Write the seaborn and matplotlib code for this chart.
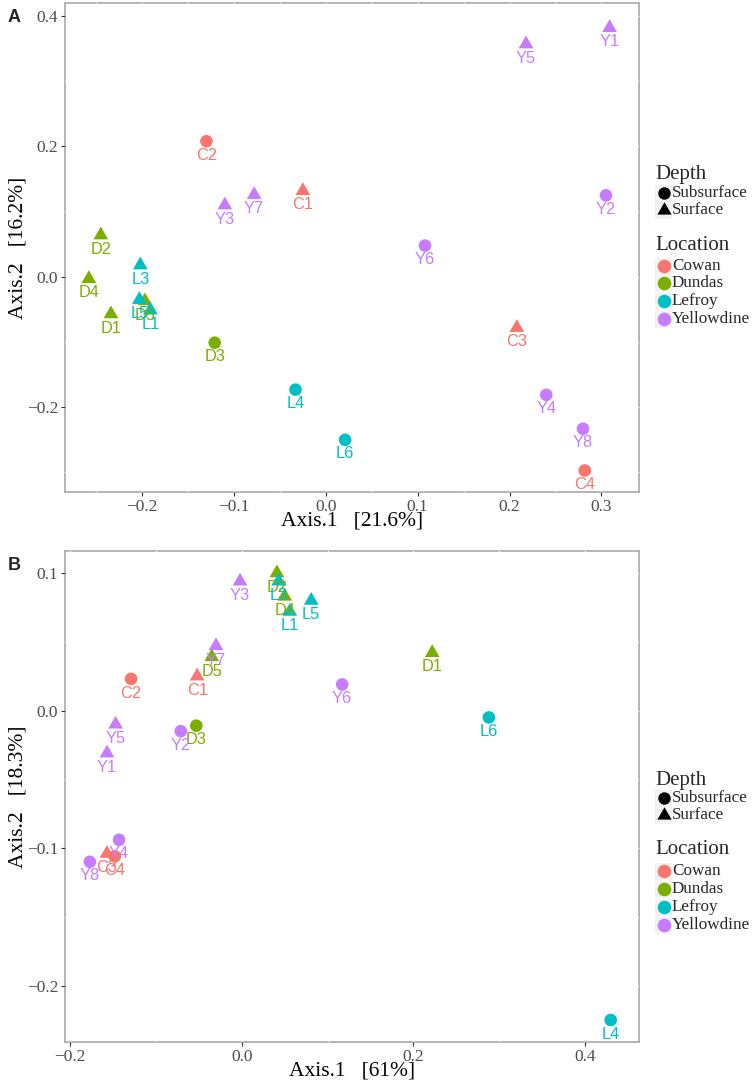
import numpy as np
import pandas as pd
import matplotlib
matplotlib.use('Agg')
import matplotlib.pyplot as plt
import seaborn as sns
from matplotlib.ticker import FixedLocator, FuncFormatter
from matplotlib.patches import Rectangle

# ---------------- data ----------------
samples = ['C1', 'C2', 'C3', 'C4', 'D1', 'D2', 'D3', 'D4', 'D5',
           'L1', 'L3', 'L4', 'L5', 'L6',
           'Y1', 'Y2', 'Y3', 'Y4', 'Y5', 'Y6', 'Y7', 'Y8']
location = ['Cowan'] * 4 + ['Dundas'] * 5 + ['Lefroy'] * 5 + ['Yellowdine'] * 8
depth = ['Surface', 'Subsurface', 'Surface', 'Subsurface',
         'Surface', 'Surface', 'Subsurface', 'Surface', 'Surface',
         'Surface', 'Surface', 'Subsurface', 'Surface', 'Subsurface',
         'Surface', 'Subsurface', 'Surface', 'Subsurface', 'Surface', 'Subsurface', 'Surface', 'Subsurface']

a_axis1 = [-0.025, -0.130, 0.208, 0.282, -0.234, -0.245, -0.121, -0.258, -0.197,
           -0.191, -0.202, -0.033, -0.203, 0.021,
           0.309, 0.305, -0.110, 0.240, 0.218, 0.108, -0.078, 0.280]
a_axis2 = [0.132, 0.208, -0.078, -0.297, -0.057, 0.064, -0.101, -0.003, -0.037,
           -0.051, 0.018, -0.173, -0.035, -0.250,
           0.382, 0.125, 0.110, -0.181, 0.357, 0.048, 0.126, -0.233]

b_axis1 = [-0.052, -0.129, -0.157, -0.148, 0.222, 0.041, -0.053, 0.050, -0.035,
           0.056, 0.043, 0.430, 0.081, 0.288,
           -0.157, -0.071, -0.002, -0.143, -0.147, 0.117, -0.030, -0.177]
b_axis2 = [0.025, 0.023, -0.104, -0.106, 0.042, 0.100, -0.011, 0.083, 0.039,
           0.072, 0.094, -0.225, 0.080, -0.005,
           -0.031, -0.015, 0.094, -0.094, -0.010, 0.019, 0.047, -0.110]

loc_levels = ['Cowan', 'Dundas', 'Lefroy', 'Yellowdine']
depth_levels = ['Subsurface', 'Surface']
loc_colors = ['#F8766D', '#7CAE00', '#00BFC4', '#C77CFF']

a_xticks = [-0.2, -0.1, 0.0, 0.1, 0.2, 0.3]
a_yticks = [-0.2, 0.0, 0.2, 0.4]
b_xticks = [-0.2, 0.0, 0.2, 0.4]
b_yticks = [-0.2, -0.1, 0.0, 0.1]

a_xlabel = 'Axis.1   [21.6%]'
a_ylabel = 'Axis.2   [16.2%]'
b_xlabel = 'Axis.1   [61%]'
b_ylabel = 'Axis.2   [18.3%]'

# ---------------- style ----------------
sns.set_theme(style='white')
plt.rcParams['font.family'] = ['Liberation Serif', 'DejaVu Serif']

W, H = 753, 1084
fig = plt.figure(figsize=(W / 100, H / 100), dpi=100)
palette = dict(zip(loc_levels, loc_colors))
SANS = ['Liberation Sans', 'DejaVu Sans']
fmt = FuncFormatter(lambda v, p: ('%.1f' % v).replace('-', '\u2212'))
# triangle centred on its centroid (like R's pch 17)
TRI = [(0.0, 1.0), (-0.866, -0.5), (0.866, -0.5), (0.0, 1.0)]


def px_axes(l, t, r, b):
    return fig.add_axes([l / W, 1 - b / H, (r - l) / W, (b - t) / H])


def minor_between(ticks, lo, hi):
    step = (ticks[1] - ticks[0]) / 2.0
    vals = np.arange(ticks[0] - 4 * step, ticks[-1] + 4 * step + 1e-9, step)
    return [v for v in vals if lo < v < hi]


def draw_panel(box, xs, ys, xlim, ylim, xticks, yticks, xlabel, ylabel, letter, legend_rows):
    l, t, r, b = box
    ax = px_axes(l, t, r, b)
    df = pd.DataFrame({'Sample': samples, 'Location': location, 'Depth': depth,
                       'x': xs, 'y': ys})
    sns.scatterplot(data=df, x='x', y='y', hue='Location', hue_order=loc_levels,
                    style='Depth', style_order=depth_levels,
                    markers={'Subsurface': 'o', 'Surface': TRI},
                    size='Depth', sizes={'Subsurface': 82, 'Surface': 150},
                    palette=palette, linewidth=0, legend=False, ax=ax, zorder=3)
    for _, row in df.iterrows():
        ax.annotate(row['Sample'], (row['x'], row['y']), xytext=(0, -13.4),
                    textcoords='offset points', ha='center', va='baseline',
                    color=palette[row['Location']], fontsize=11.8, family=SANS, zorder=4)
    ax.set_xlim(*xlim)
    ax.set_ylim(*ylim)
    ax.xaxis.set_major_locator(FixedLocator(xticks))
    ax.yaxis.set_major_locator(FixedLocator(yticks))
    ax.xaxis.set_minor_locator(FixedLocator(minor_between(xticks, *xlim)))
    ax.yaxis.set_minor_locator(FixedLocator(minor_between(yticks, *ylim)))
    ax.xaxis.set_major_formatter(fmt)
    ax.yaxis.set_major_formatter(fmt)
    ax.tick_params(axis='both', which='major', length=3, width=0.8, color='#333333',
                   labelsize=12.5, labelcolor='#4d4d4d', pad=2, direction='out',
                   bottom=True, left=True)
    ax.tick_params(axis='both', which='minor', length=0)
    for sp in ax.spines.values():
        sp.set_color('#a8a8a8')
        sp.set_linewidth(1.2)
        sp.set_zorder(1)
    ax.grid(True, which='both', color='white', linewidth=1.0)
    ax.set_axisbelow(False)
    ax.set_xlabel(xlabel, fontsize=15.5, color='black')
    ax.set_ylabel(ylabel, fontsize=15.5, color='black')
    ax.xaxis.set_label_coords(0.5, -(29) / (b - t))
    ax.yaxis.set_label_coords(-(l - 18) / (r - l), 0.5)
    ax.xaxis.label.set_va('center')
    ax.yaxis.label.set_va('center')
    ax.set_facecolor('white')
    fig.text(14 / W, 1 - (t + 15) / H, letter, fontsize=13, fontweight='bold',
             family=SANS, ha='center', va='center')

    # legend drawn in pixel space
    lg = px_axes(648, t, W, b)
    lg.set_xlim(648, W)
    lg.set_ylim(b, t)
    lg.axis('off')
    d_title, d_rows, l_title, l_rows = legend_rows
    lg.text(655, d_title, 'Depth', fontsize=15, ha='left', va='center')
    for name, yy in zip(depth_levels, d_rows):
        lg.add_patch(Rectangle((655, yy - 8.5), 17, 17, facecolor='#f2f2f2', edgecolor='none'))
        lg.scatter([663.5], [yy], marker='o' if name == 'Subsurface' else TRI,
                   s=80 if name == 'Subsurface' else 140, color='black', linewidths=0, zorder=3)
        lg.text(672, yy, name, fontsize=12.3, ha='left', va='center')
    lg.text(655, l_title, 'Location', fontsize=15, ha='left', va='center')
    for name, yy in zip(loc_levels, l_rows):
        lg.add_patch(Rectangle((655, yy - 8.5), 17, 17, facecolor='#f2f2f2', edgecolor='none'))
        lg.scatter([663.5], [yy], marker='o', s=95, color=palette[name], linewidths=0, zorder=3)
        lg.text(672, yy, name, fontsize=12.3, ha='left', va='center')
    return ax


draw_panel((65, 3, 639, 492), a_axis1, a_axis2, (-0.284, 0.341), (-0.33, 0.42),
           a_xticks, a_yticks, a_xlabel, a_ylabel, 'A',
           (175, [193, 210], 245, [266, 283, 301, 319]))
draw_panel((65, 551, 639, 1042), b_axis1, b_axis2, (-0.206, 0.463), (-0.241, 0.116),
           b_xticks, b_yticks, b_xlabel, b_ylabel, 'B',
           (780, [798, 815], 850, [871, 889, 907, 925]))

fig.savefig('out.png', dpi=100)
